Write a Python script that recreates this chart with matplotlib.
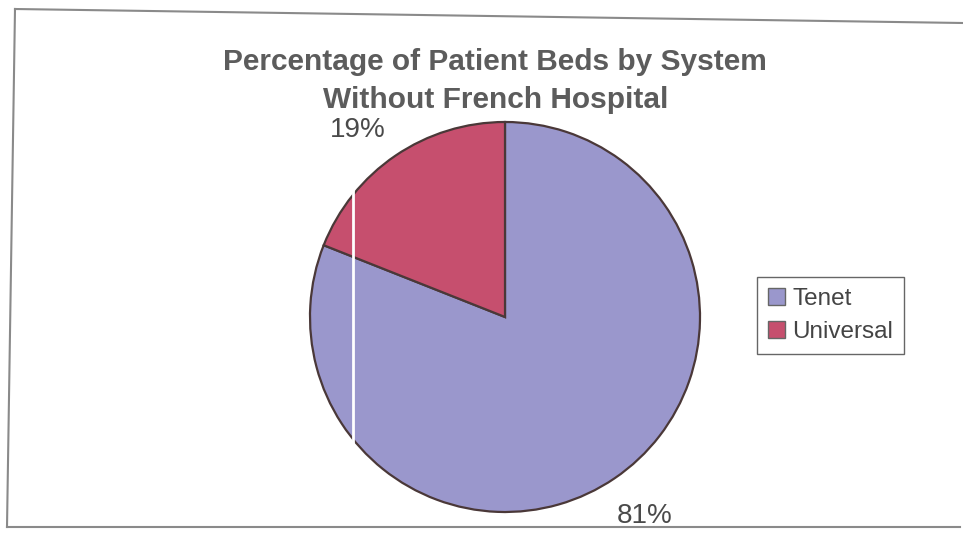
import matplotlib.pyplot as plt
from matplotlib.lines import Line2D

# data
systems = ["Tenet", "Universal"]
shares = [81, 19]
colors = ["#9a97cc", "#c64f6e"]

W, H = 963, 537


def fx(px):
    return px / W


def fy(py):
    return 1 - py / H


def main():
    plt.rcParams['font.family'] = ['Liberation Sans', 'DejaVu Sans']
    fig = plt.figure(figsize=(W / 100, H / 100), dpi=100)
    fig.patch.set_facecolor("white")

    # pie centered at (505, 317) px, radius ~195 px
    cx, cy, r = 505, 317, 195
    ax = fig.add_axes([fx(cx - r), fy(cy + r), 2 * r / W, 2 * r / H])
    wedges, texts, autotexts = ax.pie(
        shares, colors=colors, startangle=90, counterclock=False,
        autopct='%1.0f%%', pctdistance=1.24,
        wedgeprops=dict(edgecolor="#4a3838", linewidth=1.6),
        textprops=dict(fontsize=20, color="#4a4a4a"))
    for w in wedges:
        w.set_clip_on(False)
    # nudge percentage labels to where the original puts them
    label_px = [(645, 516), (358, 130)]
    for t, (px, py) in zip(autotexts, label_px):
        t.set_position(((px - cx) / r, (cy - py) / r))
        t.set_clip_on(False)
    ax.set_xlim(-1, 1)
    ax.set_ylim(-1, 1)
    ax.set_aspect("equal")
    ax.axis("off")

    # title
    fig.text(fx(495), fy(62), "Percentage of Patient Beds by System",
             ha="center", va="center", fontsize=21.5, fontweight="bold",
             color="#5c5c5c")
    fig.text(fx(496), fy(100), "Without French Hospital",
             ha="center", va="center", fontsize=21.5, fontweight="bold",
             color="#5c5c5c")

    # legend
    leg = fig.legend(wedges, systems, loc="upper left",
                     bbox_to_anchor=(fx(757), fy(277)),
                     bbox_transform=fig.transFigure, borderaxespad=0,
                     fancybox=False, framealpha=1, edgecolor="#666666",
                     fontsize=17.5, handlelength=0.7, handleheight=0.7,
                     handletextpad=0.3, labelspacing=0.45,
                     borderpad=0.45)
    for t in leg.get_texts():
        t.set_color("#444444")
    for p in leg.get_patches():
        p.set_edgecolor("#666666")
        p.set_linewidth(1.0)

    # outer frame of the scanned page
    frame = dict(color="#8a8a8a", linewidth=1.5, transform=fig.transFigure)
    fig.add_artist(Line2D([fx(15), fx(963)], [fy(9), fy(23)], **frame))
    fig.add_artist(Line2D([fx(15), fx(7)], [fy(9), fy(527)], **frame))
    fig.add_artist(Line2D([fx(7), fx(960)], [fy(527), fy(527)], **frame))

    # white scan streak through the pie
    fig.add_artist(Line2D([fx(353), fx(353)], [fy(190), fy(470)],
                          color="white", linewidth=2,
                          transform=fig.transFigure))

    fig.savefig("out.png", dpi=100)
    plt.close(fig)


if __name__ == "__main__":
    main()
